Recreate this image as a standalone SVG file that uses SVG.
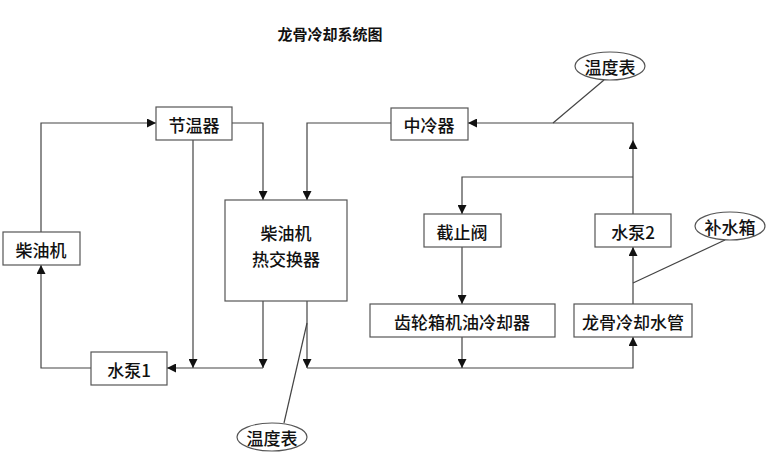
<svg xmlns="http://www.w3.org/2000/svg" width="770" height="475" viewBox="0 0 770 475">
<style>
rect{fill:#fff;stroke:#555;stroke-width:1.2}
ellipse{fill:#fff;stroke:#555;stroke-width:1.2}
text{font-family:"Noto Sans CJK SC","Liberation Serif",serif;font-size:17px;font-weight:500;fill:#111;text-anchor:middle;dominant-baseline:central}
#conn path{fill:none;stroke:#444;stroke-width:1.2}
.c{marker-end:url(#a)}
</style>
<defs><marker id="a" viewBox="0 0 10 10" refX="10" refY="5" markerWidth="9" markerHeight="9" markerUnits="userSpaceOnUse" orient="auto"><path d="M0,0L10,5L0,10z" fill="#111"/></marker></defs>
<rect width="770" height="475" style="stroke:none"/>
<text x="330" y="33" style="font-size:15px;font-weight:bold">龙骨冷却系统图</text>
<g id="conn">
<path class="c" d="M41,232V123H156"/>
<path class="c" d="M232,123H263V200"/>
<path class="c" d="M193,140V368"/>
<path class="c" d="M263,301V368"/>
<path class="c" d="M263,368H167"/>
<path class="c" d="M91,368H41V265"/>
<path class="c" d="M391,123H307V200"/>
<path class="c" d="M307,301V368"/>
<path class="c" d="M307,368H633V337"/>
<path class="c" d="M462,337V368"/>
<path class="c" d="M633,304V247"/>
<path class="c" d="M633,214V140"/>
<path class="c" d="M633,140V123H468"/>
<path class="c" d="M633,177H462V214"/>
<path class="c" d="M462,247V304"/>
<path d="M553,123L604,80"/>
<path d="M307,323L284,423"/>
<path d="M633,283L725,240"/>
</g>
<g id="n1"><rect x="156" y="107" width="76" height="33"/><text x="194" y="124">节温器</text></g>
<g id="n2"><rect x="3" y="232" width="77" height="33"/><text x="41" y="249">柴油机</text></g>
<g id="n3"><rect x="225" y="200" width="122" height="101"/><text x="286" y="232">柴油机</text><text x="286" y="258">热交换器</text></g>
<g id="n4"><rect x="91" y="352" width="76" height="33"/><text x="129" y="369">水泵1</text></g>
<g id="n5"><rect x="391" y="108" width="77" height="32"/><text x="429" y="124">中冷器</text></g>
<g id="n6"><rect x="424" y="214" width="77" height="33"/><text x="462" y="231">截止阀</text></g>
<g id="n7"><rect x="595" y="214" width="76" height="33"/><text x="633" y="231">水泵2</text></g>
<g id="n8"><rect x="370" y="304" width="185" height="33"/><text x="462" y="321">齿轮箱机油冷却器</text></g>
<g id="n9"><rect x="574" y="304" width="118" height="33"/><text x="633" y="321">龙骨冷却水管</text></g>
<g id="n10"><ellipse cx="610" cy="66" rx="35" ry="14"/><text x="610" y="66">温度表</text></g>
<g id="n11"><ellipse cx="730" cy="226" rx="35" ry="14"/><text x="730" y="226">补水箱</text></g>
<g id="n12"><ellipse cx="272" cy="437" rx="35" ry="14"/><text x="272" y="437">温度表</text></g>
</svg>
